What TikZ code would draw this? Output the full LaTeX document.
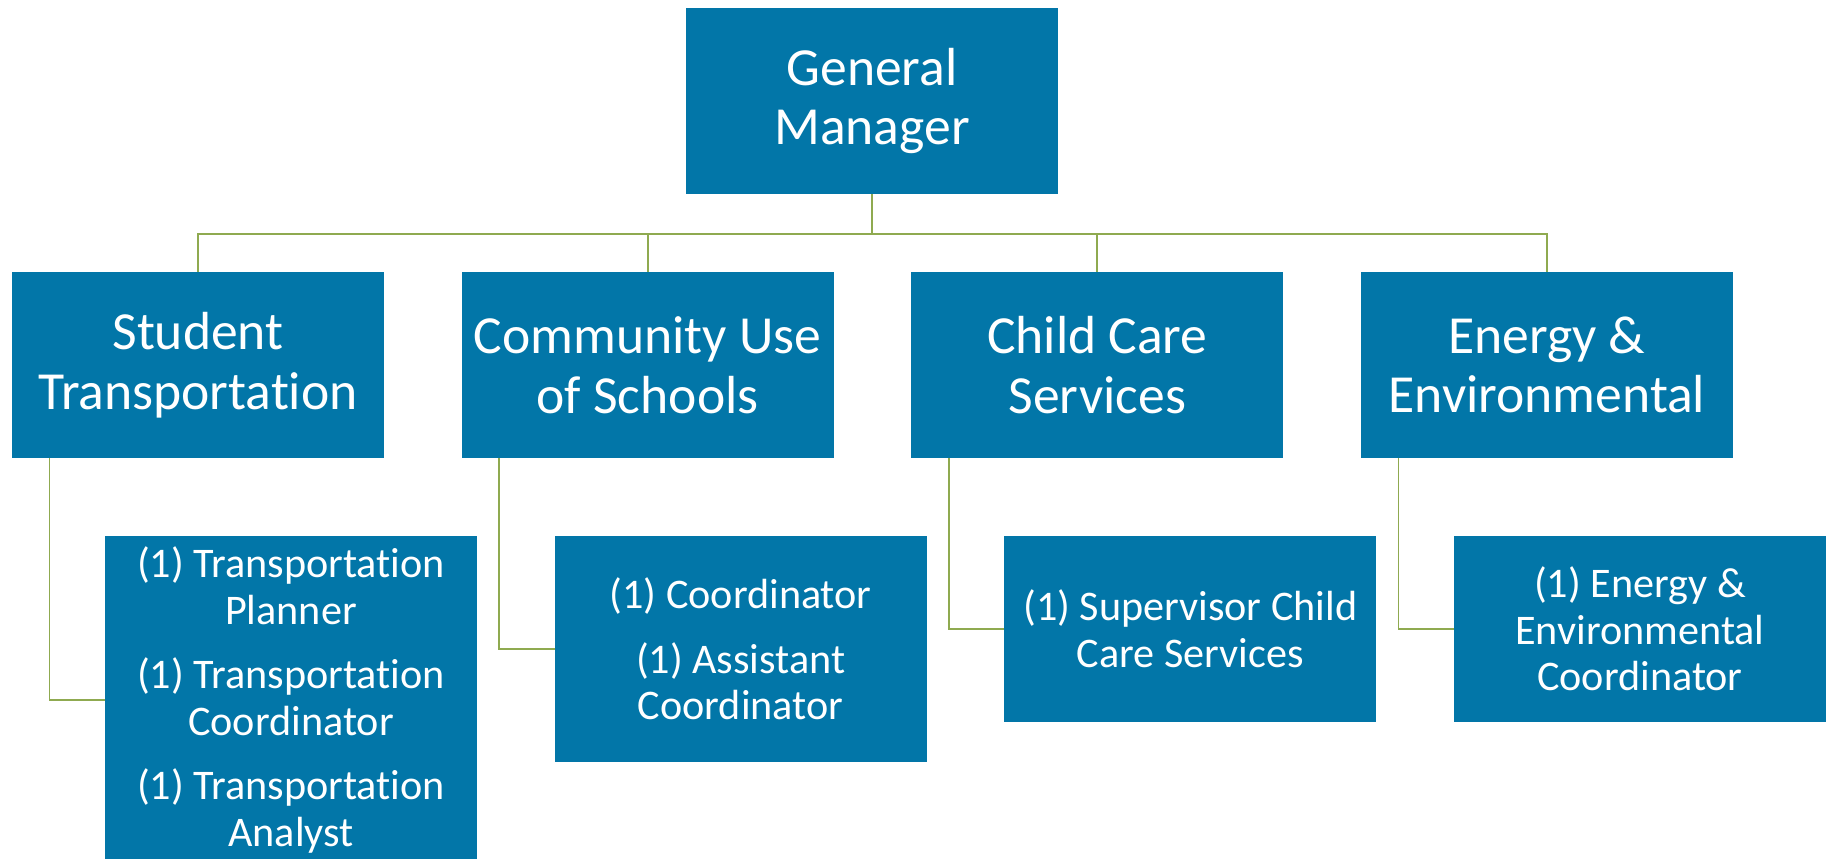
\documentclass[tikz,border=0pt]{standalone}
\usepackage{fontspec}
\setmainfont{Carlito}[Ligatures=NoCommon]
\usepackage{xcolor}
\usetikzlibrary{
	positioning,
	calc
}
\definecolor{unitblue}{RGB}{2,118,168}
\definecolor{linkgreen}{RGB}{143,170,80}

\begin{document}
\begin{tikzpicture}[
		unit/.style={
			fill=unitblue,
			text=white,
			align=center,
			inner sep=0pt,
			outer sep=0pt,
			minimum width=7.44cm,
			minimum height=3.72cm,
			font=\fontsize{30.5}{34}\selectfont
		},
		role/.style={
			fill=unitblue,
			text=white,
			align=center,
			inner sep=0pt,
			outer sep=0pt,
			minimum width=7.44cm,
			font=\fontsize{24}{26.5}\selectfont
		},
		link/.style={
			draw=linkgreen,
			line width=1pt
		}
		]
		
		\useasboundingbox (0,0) rectangle (36.58,-17.18);
		\clip (0,0) rectangle (36.58,-17.18);
		
		% Manager
		\node[unit, anchor=north] (gm) at (17.44,-0.16) {General\\Manager};
		
		% Departments
		\node[unit, anchor=north west] (student) at (0.24,-5.44) {Student\\Transportation};
		\node[unit, right=1.553cm of student] (community) {Community Use\\of Schools};
		\node[unit, right=1.553cm of community] (childcare) {Child Care\\Services};
		\node[unit, right=1.553cm of childcare] (energy) {Energy \&\\Environmental};
		
		% Staff
		\node[role, minimum height=6.56cm, anchor=north west] (studentstaff)
		at ([xshift=1.86cm,yshift=-1.56cm]student.south west)
		{(1) Transportation\\Planner\\[0.36cm](1) Transportation\\Coordinator\\[0.36cm](1) Transportation\\Analyst};
		\node[role, minimum height=4.52cm, anchor=north west] (communitystaff)
		at ([xshift=1.86cm,yshift=-1.56cm]community.south west)
		{(1) Coordinator\\[0.36cm](1) Assistant\\Coordinator};
		\node[role, minimum height=3.72cm, anchor=north west] (childcarestaff)
		at ([xshift=1.86cm,yshift=-1.56cm]childcare.south west)
		{(1) Supervisor Child\\Care Services};
		\node[role, minimum height=3.72cm, anchor=north west] (energystaff)
		at ([xshift=1.86cm,yshift=-1.56cm]energy.south west)
		{(1) Energy \&\\Environmental\\Coordinator};
		
		% Connections
		\draw[link] (gm.south) -- ++(0,-0.8) coordinate (bar);
		\foreach \n in {student,community,childcare,energy}
		{
			\draw[link] (bar) -| (\n.north);
			
			\draw[link]
			([xshift=0.75cm]\n.south west)
			|- (\n staff.west);
		}
		
	\end{tikzpicture}
\end{document}
